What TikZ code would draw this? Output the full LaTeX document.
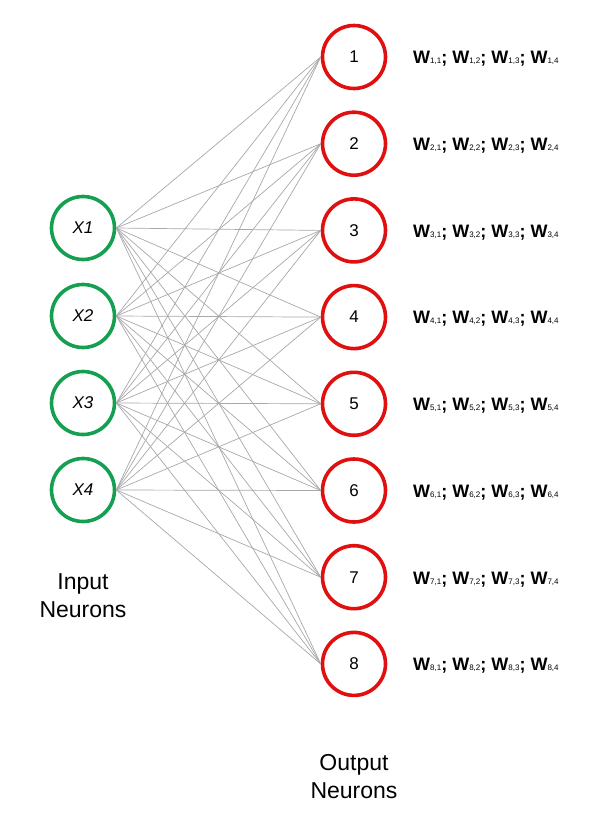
\documentclass[tikz,border=0pt]{standalone}
\usepackage{fontspec}
\setmainfont{Liberation Sans}
\usepackage{xcolor}
\definecolor{inputgreen}{HTML}{14A050}
\definecolor{outputred}{HTML}{E01010}
\definecolor{linkgray}{HTML}{A8A8A8}

\newcommand{\wsub}[2]{W{\fontsize{8}{8}\selectfont\mdseries #1,#2}}

\begin{document}
\begin{tikzpicture}[x=1pt, y=-1pt,
    inneuron/.style={circle, draw=inputgreen, line width=3.6pt, minimum size=63pt, inner sep=0pt,
                     font=\fontsize{17}{17}\selectfont\itshape},
    outneuron/.style={circle, draw=outputred, line width=3.6pt, minimum size=63pt, inner sep=0pt,
                      font=\fontsize{17}{17}\selectfont},
    link/.style={draw=linkgray, line width=0.7pt},
    weights/.style={anchor=west, inner sep=0pt, font=\fontsize{18}{18}\selectfont\bfseries},
    caption/.style={align=center, font=\fontsize{23}{28}\selectfont}]
  \useasboundingbox (0,0) rectangle (596,831);

  % input neurons
  \foreach \i/\y in {1/228, 2/316, 3/403, 4/490}
    \node[inneuron] (in\i) at (83,\y) {X\i};

  % output neurons and their weights
  \foreach \j in {1,...,8}{
    \node[outneuron] (out\j) at (354,{57+86.7*(\j-1)}) {\j};
    \node[weights] (w\j) at (413,{59+86.7*(\j-1)})
      {\wsub{\j}{1}; \wsub{\j}{2}; \wsub{\j}{3}; \wsub{\j}{4}};
  }

  % every input to every output
  \foreach \i in {1,...,4}
    \foreach \j in {1,...,8}
      \draw[link] (in\i.east) -- (out\j.west);

  \node[caption] (inlabel) at (83,596) {Input\\Neurons};
  \node[caption] (outlabel) at (354,777) {Output\\Neurons};
\end{tikzpicture}
\end{document}
